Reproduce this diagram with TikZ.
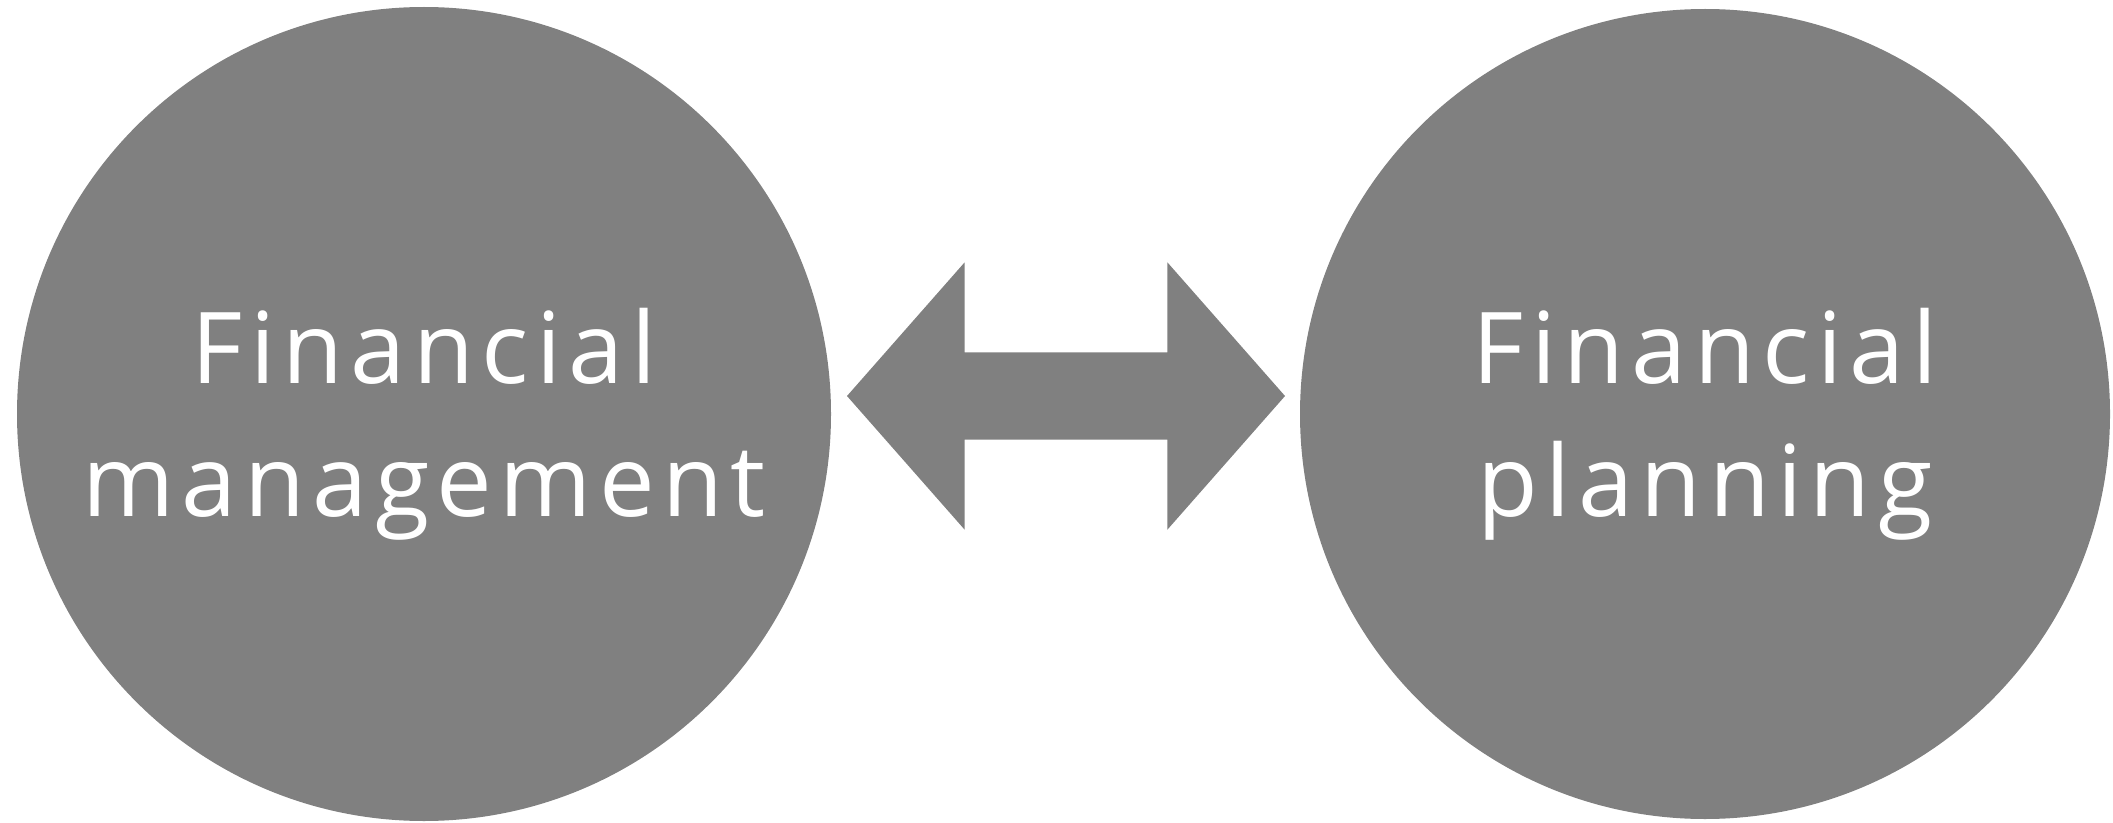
\documentclass[tikz,border=0pt]{standalone}
\usepackage{fontspec}
\setmainfont{Open Sans}[LetterSpace=7.5]
\usetikzlibrary{shapes.arrows}

\begin{document}
\begin{tikzpicture}[
    bubble/.style={circle, fill=gray, minimum size=8.14cm, inner sep=0pt},
    caption/.style={text=white, align=center, inner sep=0pt,
                font=\fontsize{28.2}{37.8}\selectfont},
    link/.style={double arrow, fill=gray, inner sep=0pt, inner ysep=0.43cm,
                minimum height=4.38cm, minimum width=2.66cm,
                double arrow head extend=0.9cm, double arrow tip angle=97.3}
]
\useasboundingbox (0,0) rectangle (21.13,8.22);
\node[bubble] (mgmt) at (4.24,4.08) {};
\node[bubble, minimum size=8.10cm] (plan) at (17.05,4.08) {};
\node[caption] (mgmtText) at ([yshift=-0.1cm]mgmt.center) {Financial\\management};
\node[caption] (planText) at ([yshift=-0.1cm]plan.center) {Financial\\planning};
\node[link] (link) at (10.66,4.26) {};
\end{tikzpicture}
\end{document}
